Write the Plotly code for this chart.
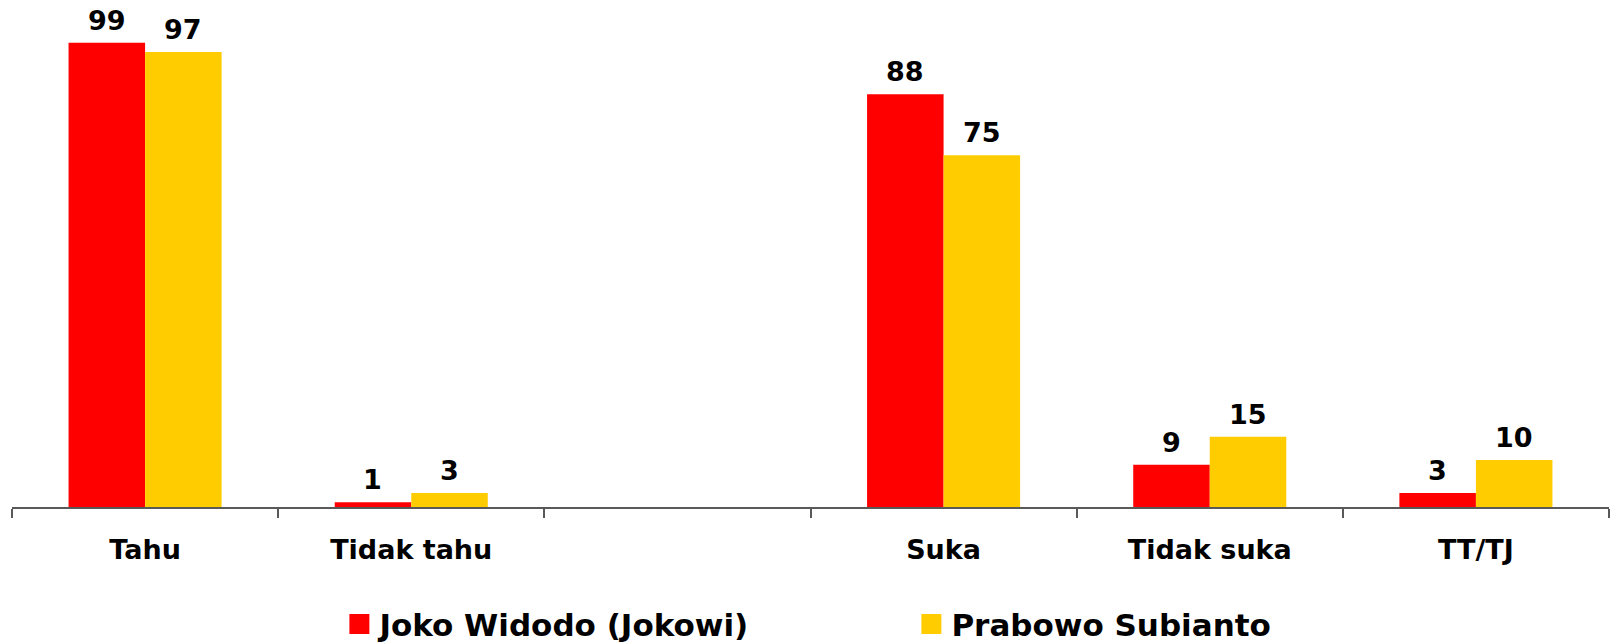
import plotly.graph_objects as go

# Survey categories (an empty slot separates the two question groups)
categories = ["Tahu", "Tidak tahu", " ", "Suka", "Tidak suka", "TT/TJ"]
jokowi = [99, 1, None, 88, 9, 3]
prabowo = [97, 3, None, 75, 15, 10]

series_names = ["Joko Widodo (Jokowi)", "Prabowo Subianto"]
series_colors = ["#FF0000", "#FFCC00"]

FONT = "DejaVu Sans"
BARGAP = 0.425

fig = go.Figure()

for name, values, color in zip(series_names, [jokowi, prabowo], series_colors):
    fig.add_trace(go.Bar(
        x=categories, y=values, name=name,
        marker=dict(color=color, line=dict(width=0)),
        showlegend=False, hoverinfo="x+y+name",
    ))
    # square swatch shown in the legend
    fig.add_trace(go.Scatter(
        x=[None], y=[None], mode="markers", name=name,
        marker=dict(symbol="square", size=16, color=color,
                    line=dict(color=color, width=4)),
        showlegend=True,
    ))

# value labels above each bar, offset to the centre of each grouped bar
half = (1 - BARGAP) / 4
annotations = []
for k, values in enumerate([jokowi, prabowo]):
    shift = -half if k == 0 else half
    for i, v in enumerate(values):
        if v is None:
            continue
        annotations.append(dict(
            x=i + shift, y=v, xref="x", yref="y",
            text=f"<b>{v}</b>", showarrow=False,
            yanchor="bottom", xanchor="center", yshift=5,
            font=dict(family=FONT, size=27, color="#000000"),
        ))

fig.update_layout(
    width=1614, height=642,
    margin=dict(l=12, r=5, t=38, b=135, autoexpand=False),
    paper_bgcolor="#FFFFFF", plot_bgcolor="#FFFFFF",
    barmode="group", bargap=BARGAP, bargroupgap=0,
    font=dict(family=FONT, color="#000000"),
    annotations=annotations,
    legend=dict(
        orientation="h", x=0.205, y=-0.308, xanchor="left", yanchor="bottom",
        itemsizing="trace", entrywidth=527, entrywidthmode="pixels",
        font=dict(family=FONT, size=31, color="#000000", weight="bold"),
        bgcolor="rgba(0,0,0,0)", tracegroupgap=0,
    ),
    xaxis=dict(
        type="category", range=[-0.5, 5.5], automargin=False,
        showline=True, linecolor="#595959", linewidth=1.5,
        ticks="outside", tickson="boundaries", ticklen=9, tickwidth=1.5,
        tickcolor="#595959", ticklabelstandoff=18,
        tickfont=dict(family=FONT, size=27, color="#000000", weight="bold"),
        showgrid=False, zeroline=False, fixedrange=True,
    ),
    yaxis=dict(
        range=[0, 100], visible=False, showgrid=False, zeroline=False,
        fixedrange=True, automargin=False,
    ),
)

fig.write_html("out.html")
